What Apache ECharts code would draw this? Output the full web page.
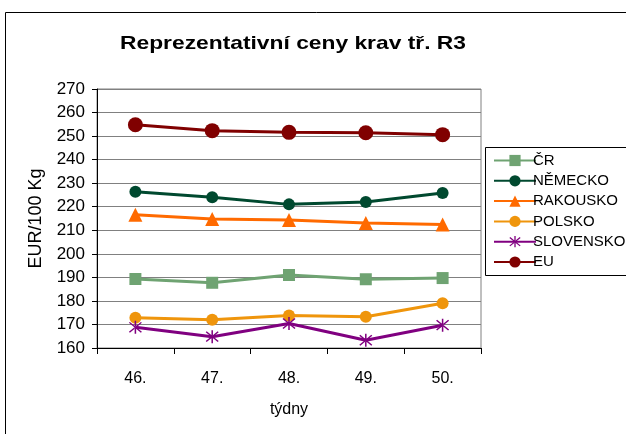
<!DOCTYPE html>
<html><head><meta charset="utf-8">
<script src="https://cdn.jsdelivr.net/npm/echarts@6/dist/echarts.min.js"></script>
<style>html,body{margin:0;padding:0;background:#fff}#c{width:626px;height:434px}</style>
</head><body><div id="c"></div>
<script>
const categories = ['46.', '47.', '48.', '49.', '50.'];
const seriesNames = ['ČR', 'NĚMECKO', 'RAKOUSKO', 'POLSKO', 'SLOVENSKO', 'EU'];
const cr = [189.3, 187.7, 191.0, 189.2, 189.7];
const nemecko = [226.4, 224.0, 221.0, 222.0, 225.8];
const rakousko = [216.6, 214.8, 214.4, 213.1, 212.4];
const polsko = [172.8, 172.0, 173.8, 173.3, 179.0];
const slovensko = [168.8, 164.8, 170.4, 163.3, 169.7];
const eu = [254.8, 252.3, 251.6, 251.4, 250.6];
const yTicks = [160, 170, 180, 190, 200, 210, 220, 230, 240, 250, 260, 270];

const asterisk = 'path://M9,0L11,0L11,20L9,20Z M1.5,3.2L2.8,1.7L18.5,16.8L17.2,18.3Z M18.5,3.2L17.2,1.7L1.5,16.8L2.8,18.3Z';
const styles = [
  {color:'#6fa372', symbol:'rect', size:12},
  {color:'#00492f', symbol:'circle', size:12},
  {color:'#ff6a00', symbol:'triangle', size:14},
  {color:'#ef950c', symbol:'circle', size:12},
  {color:'#800080', symbol:asterisk, size:13},
  {color:'#800000', symbol:'circle', size:15}
];
const dataSets = [cr, nemecko, rakousko, polsko, slovensko, eu];

const chart = echarts.init(document.getElementById('c'), null, {renderer:'canvas'});
const font = 'Liberation Sans';
chart.setOption({
  animation:false,
  textStyle:{fontFamily:font},
  graphic:[
    {type:'rect', shape:{x:5.5,y:12.5,width:700,height:500}, style:{fill:'none',stroke:'#000',lineWidth:1}, z:0},
    {type:'rect', shape:{x:485.5,y:147.5,width:200,height:128}, style:{fill:'#fff',stroke:'#000',lineWidth:1}, z:1},
    {type:'text', x:293, y:43.5, scaleX:1.2, style:{text:'Reprezentativní ceny krav tř. R3', x:0, y:0, textAlign:'center', textVerticalAlign:'middle', font:'bold 19px "Liberation Sans"', fill:'#000'}, z:5}
  ],
  legend:{
    data:seriesNames, orient:'vertical', left:488, top:148,
    itemWidth:42, itemHeight:14, itemGap:5.3,
    textStyle:{fontSize:15, color:'#000', fontFamily:font, padding:[0,0,0,-8]},
    z:10
  },
  grid:{left:97, top:89, right:145, bottom:86, show:true, borderColor:'#808080', borderWidth:1},
  xAxis:{
    type:'category', data:categories, boundaryGap:true,
    axisLine:{lineStyle:{color:'#000',width:1}},
    axisTick:{show:true, length:6, lineStyle:{color:'#000'}},
    axisLabel:{fontSize:16, color:'#000', margin:23},
    name:'týdny', nameLocation:'middle', nameGap:54,
    nameTextStyle:{fontSize:16, color:'#000'}
  },
  yAxis:{
    type:'value', min:160, max:270, interval:10,
    axisLine:{show:true, lineStyle:{color:'#000',width:1}},
    axisTick:{show:true, length:5, lineStyle:{color:'#000'}},
    axisLabel:{fontSize:17, color:'#000', margin:12},
    splitLine:{lineStyle:{color:'#808080', width:1}},
    name:'EUR/100 Kg', nameLocation:'middle', nameGap:52, nameRotate:90,
    nameTextStyle:{fontSize:18, color:'#000'}
  },
  series: seriesNames.map((n,i)=>({
    name:n, type:'line', data:dataSets[i],
    symbol:styles[i].symbol, symbolSize:styles[i].size,
    lineStyle:{color:styles[i].color, width:3},
    itemStyle:{color:styles[i].color},
    z: 3
  }))
});
</script></body></html>
